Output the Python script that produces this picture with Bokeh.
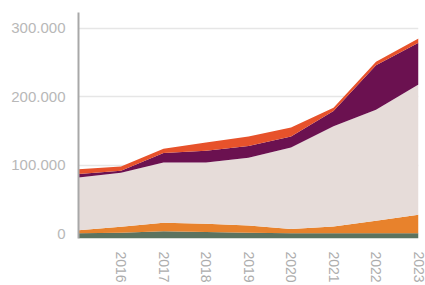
import numpy as np
from bokeh.plotting import figure
from bokeh.models import FixedTicker, Range1d
from bokeh.embed import file_html
from bokeh.resources import INLINE

years = [2015, 2016, 2017, 2018, 2019, 2020, 2021, 2022, 2023]
green = [500, 1500, 3500, 2500, 1500, 500, 500, 500, 500]
orange = [4500, 8500, 12500, 12000, 10500, 6500, 10000, 18500, 27000]
light = [77000, 79000, 88000, 89500, 99000, 119000, 146500, 162000, 190500]
purple = [5000, 3000, 14000, 17000, 17000, 16000, 22000, 65000, 61000]
red = [7000, 6000, 6000, 12000, 14000, 13000, 5000, 5000, 6000]

x_ticks = [2016, 2017, 2018, 2019, 2020, 2021, 2022, 2023]
y_ticks = [0, 100000, 200000, 300000]
y_tick_labels = ["0", "100.000", "200.000", "300.000"]

series = [green, orange, light, purple, red]
colors = ["#5c735f", "#e8822c", "#e6dcd9", "#6b1150", "#e7522b"]

Y_START = -7000

p = figure(width=425, height=285, output_backend="svg", toolbar_location=None,
           x_range=Range1d(2015, 2023), y_range=Range1d(Y_START, 323000),
           min_border_left=78, min_border_right=7, min_border_top=12,
           min_border_bottom=45)
p.outline_line_color = None
p.background_fill_color = "white"
p.border_fill_color = "white"

base = np.full(len(years), float(Y_START))
top = np.zeros(len(years))
for vals, col in zip(series, colors):
    top = top + np.array(vals, dtype=float)
    p.varea(x=years, y1=base, y2=top.copy(), fill_color=col, fill_alpha=1.0)
    base = top.copy()

p.xgrid.grid_line_color = None
p.ygrid.grid_line_color = "#e6e6e6"
p.ygrid.grid_line_width = 1.5
p.ygrid.ticker = FixedTicker(ticks=y_ticks)

p.yaxis.ticker = FixedTicker(ticks=y_ticks)
p.yaxis.major_label_overrides = {t: l for t, l in zip(y_ticks, y_tick_labels)}
p.yaxis.axis_line_color = "#a8a8a8"
p.yaxis.axis_line_width = 2
p.yaxis.major_tick_line_color = None
p.yaxis.minor_tick_line_color = None
p.yaxis.major_label_text_color = "#b8b8b8"
p.yaxis.major_label_text_font = "Liberation Sans"
p.yaxis.major_label_text_font_size = "15px"
p.yaxis.major_label_standoff = 7

p.xaxis.ticker = FixedTicker(ticks=x_ticks)
p.xaxis.axis_line_color = None
p.xaxis.major_tick_line_color = None
p.xaxis.minor_tick_line_color = None
p.xaxis.major_label_orientation = "vertical"
p.xaxis.major_label_text_color = "#adadad"
p.xaxis.major_label_text_font = "Liberation Sans"
p.xaxis.major_label_text_font_size = "14px"
p.xaxis.major_label_standoff = 7

open("out.html", "w").write(file_html(p, INLINE))
